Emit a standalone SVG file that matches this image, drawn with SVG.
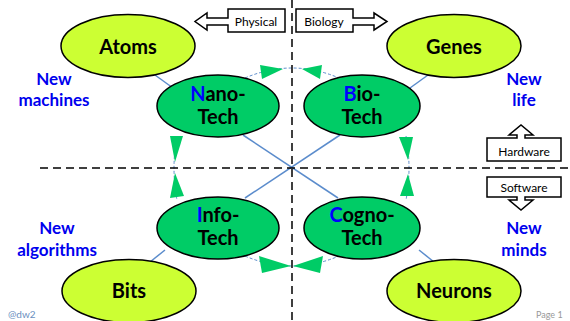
<svg xmlns="http://www.w3.org/2000/svg" width="570" height="321" viewBox="0 0 570 321">
<style>
text{font-family:Lato,"Liberation Sans",sans-serif}
.yel{fill:#ccff33;stroke:#000;stroke-width:1.5}
.grn{fill:#00cc66;stroke:#000;stroke-width:1.5}
.big{font-size:20px;font-weight:bold;fill:#000;text-anchor:middle}
.ini{fill:#0000ff}
.lab{font-size:17px;font-weight:bold;fill:#0000ee;text-anchor:middle}
.con{stroke:#5b8ccc;stroke-width:1.5;fill:none}
.arc{stroke:#5b8ccc;stroke-width:1;stroke-dasharray:3 2;fill:none}
.tri{fill:#00cc66;stroke:none}
.dash{stroke:#000;stroke-width:1.5;stroke-dasharray:8 5;fill:none}
.box{fill:#fff;stroke:#000;stroke-width:1.5}
.small{font-size:12px;fill:#000;text-anchor:middle}
</style>
<rect width="570" height="321" fill="#fff"/>
<g id="connectors">
<line class="con" x1="155" y1="75" x2="173" y2="88"/>
<line class="con" x1="428" y1="75" x2="410" y2="88"/>
<line class="con" x1="165" y1="250" x2="150" y2="262"/>
<line class="con" x1="419" y1="250" x2="434" y2="262"/>
<line class="con" x1="243" y1="135" x2="338" y2="198"/>
<line class="con" x1="340" y1="135" x2="245" y2="198"/>
<path class="arc" d="M245 78 Q292 58 339 78"/>
<polygon class="tri" points="260,65 262,79 283,69"/>
<polygon class="tri" points="322,65 320,79 302,69"/>
<path class="arc" d="M245 256 Q292 276 339 256"/>
<polygon class="tri" points="259,256 262,273 291,266"/>
<polygon class="tri" points="323,256 320,273 293,266"/>
<path class="arc" d="M177 136 Q171 168 177 200"/>
<polygon class="tri" points="170,136 183,136 175,162"/>
<polygon class="tri" points="170,198 184,196 175,173"/>
<path class="arc" d="M406 136 Q412 168 406 200"/>
<polygon class="tri" points="399,137 413,137 408,160"/>
<polygon class="tri" points="400,196 414,196 408,174"/>
</g>
<g id="axes">
<line class="dash" x1="40" y1="168" x2="570" y2="168"/>
<line class="dash" x1="292" y1="0" x2="292" y2="321"/>
</g>
<g id="atoms"><ellipse class="yel" cx="128" cy="46" rx="67" ry="31.5"/><text class="big" x="128" y="54">Atoms</text></g>
<g id="genes"><ellipse class="yel" cx="454" cy="46" rx="67" ry="31.5"/><text class="big" x="454" y="54">Genes</text></g>
<g id="bits"><ellipse class="yel" cx="129" cy="291" rx="67" ry="31.5"/><text class="big" x="129" y="298">Bits</text></g>
<g id="neurons"><ellipse class="yel" cx="454" cy="291" rx="67" ry="31.5"/><text class="big" x="454" y="298">Neurons</text></g>
<g id="nanotech"><ellipse class="grn" cx="218" cy="106" rx="61" ry="31"/><text class="big" x="218" y="101"><tspan class="ini">N</tspan>ano-</text><text class="big" x="218" y="124">Tech</text></g>
<g id="biotech"><ellipse class="grn" cx="362" cy="106" rx="58" ry="31"/><text class="big" x="362" y="101"><tspan class="ini">B</tspan>io-</text><text class="big" x="362" y="124">Tech</text></g>
<g id="infotech"><ellipse class="grn" cx="218" cy="228" rx="61" ry="31"/><text class="big" x="218" y="222"><tspan class="ini">I</tspan>nfo-</text><text class="big" x="218" y="245">Tech</text></g>
<g id="cognotech"><ellipse class="grn" cx="362" cy="228" rx="58" ry="31"/><text class="big" x="362" y="222"><tspan class="ini">C</tspan>ogno-</text><text class="big" x="362" y="245">Tech</text></g>
<g id="physical"><polygon class="box" points="228,9 285,9 285,32 228,32 228,25 207,25 207,30 195,21.5 207,13 207,18 228,18"/><text class="small" x="256" y="26">Physical</text></g>
<g id="biology"><polygon class="box" points="296,9 353,9 353,18 374,18 374,13 387,21.5 374,30 374,25 353,25 353,32 296,32"/><text class="small" x="324" y="26">Biology</text></g>
<g id="hardware"><polygon class="box" points="487,138 517,138 517,135 509,135 521,125 533,135 525,135 525,138 561,138 561,161 487,161"/><text class="small" x="524" y="156">Hardware</text></g>
<g id="software"><polygon class="box" points="487,177 561,177 561,197 525,197 525,200 533,200 521,210 509,200 517,200 517,197 487,197"/><text class="small" x="524" y="192">Software</text></g>
<g id="labels">
<text class="lab" x="54" y="85">New</text><text class="lab" x="54" y="106">machines</text>
<text class="lab" x="524" y="85">New</text><text class="lab" x="524" y="106">life</text>
<text class="lab" x="57" y="234">New</text><text class="lab" x="57" y="256">algorithms</text>
<text class="lab" x="524" y="234">New</text><text class="lab" x="524" y="256">minds</text>
</g>
<g id="footer">
<text x="8" y="318" style="font-size:10px;fill:#6a8fc0">@dw2</text>
<text x="536" y="318" style="font-size:9px;fill:#999">Page 1</text>
</g>
</svg>
